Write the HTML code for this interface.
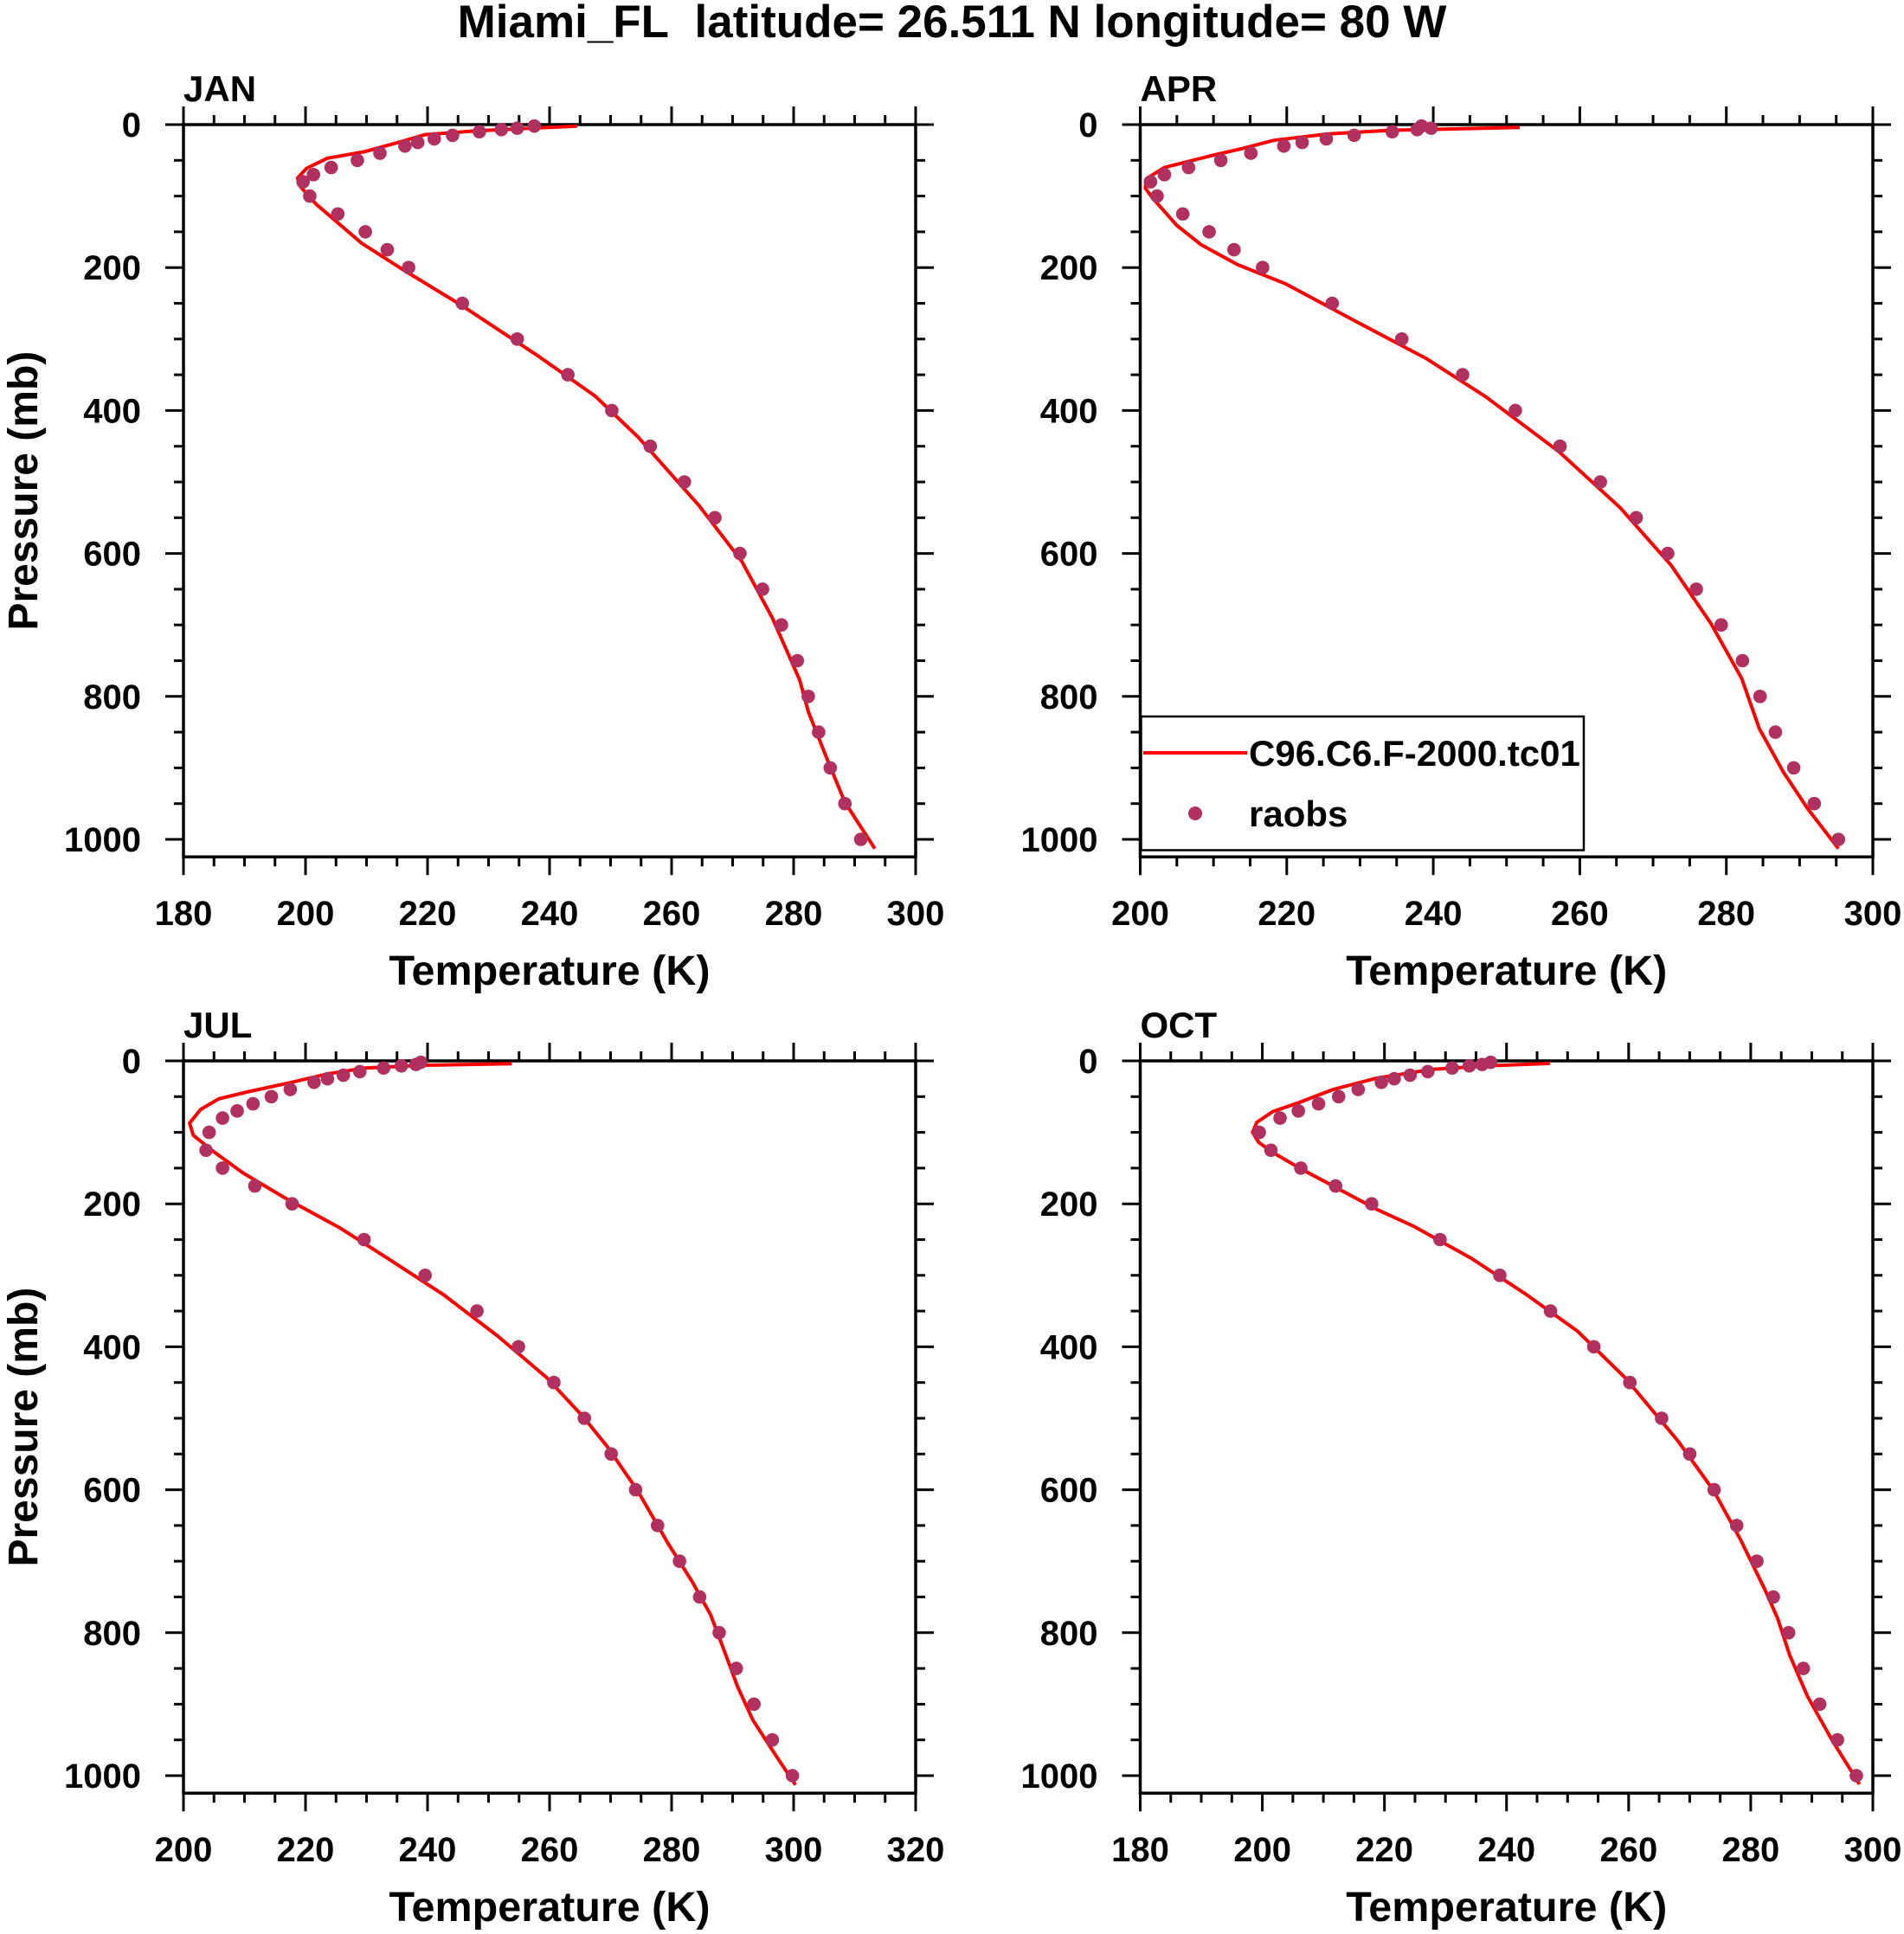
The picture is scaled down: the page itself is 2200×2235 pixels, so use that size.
<!DOCTYPE html>
<html><head><meta charset="utf-8"><style>
html,body{margin:0;padding:0;background:#fff;}
svg text{font-family:"Liberation Sans",Arial,sans-serif;font-weight:bold;fill:#000;}
</style></head><body>
<svg id="fig" xmlns="http://www.w3.org/2000/svg" width="2200" height="2230" viewBox="0 0 2200 2230">
<rect width="2200" height="2230" fill="#fff"/>
<text x="1100" y="43" font-size="53" text-anchor="middle">Miami_FL&#160;&#160;latitude= 26.511 N longitude= 80 W</text>
</svg>
<script>
// Shared observation pressure levels (mb)
const obsLevels = [2,5,7,10,15,20,25,30,40,50,60,70,80,100,125,150,175,200,250,300,350,400,450,500,550,600,650,700,750,800,850,900,950,1000];
const janObsT = [237.5,234.7,232.1,228.5,224.1,221.1,218.4,216.3,212.2,208.5,204.2,201.3,199.6,200.7,205.3,209.8,213.4,216.9,225.7,234.7,243.0,250.2,256.5,262.1,267.1,271.2,274.9,278.0,280.6,282.4,284.1,286.0,288.4,291.0];
const aprObsT = [238.4,239.7,237.8,234.4,229.2,225.4,222.1,219.6,215.1,211.0,206.6,203.3,201.4,202.3,205.8,209.4,212.8,216.7,226.2,235.7,244.0,251.2,257.3,262.8,267.7,272.0,275.9,279.3,282.2,284.6,286.7,289.2,292.0,295.3];
const julObsT = [238.9,238.1,235.7,232.8,228.9,226.2,223.6,221.4,217.5,214.4,211.4,208.8,206.4,204.2,203.7,206.4,211.7,217.8,229.6,239.6,248.1,254.9,260.7,265.7,270.1,274.1,277.7,281.3,284.6,287.8,290.6,293.5,296.5,299.8];
const octObsT = [237.4,236.0,233.9,231.1,227.1,224.2,221.6,219.5,215.7,212.5,209.2,205.9,202.9,199.5,201.4,206.3,212.0,217.9,229.1,238.9,247.2,254.3,260.2,265.4,270.0,274.0,277.7,281.0,283.7,286.2,288.6,291.3,294.2,297.3];
// Model profiles
const janModP = [2,9,14,24,38,47,61,75,87,111,166,201,253,323,380,437,533,611,690,777,821,886,948,1013];
const janModT = [244.5,227.6,219.6,215.6,209.6,203.6,200.2,198.7,199.2,201.7,209.2,215.6,225.6,238.0,247.5,254.5,264.5,271.5,276.5,281.0,282.4,285.4,288.4,293.3];
const aprModP = [4,8,13,22,33,43,60,76,89,103,141,168,196,223,273,327,381,458,536,617,698,775,845,906,957,1013];
const aprModT = [251.8,234.0,225.7,218.2,214.1,209.9,203.3,200.8,200.7,201.7,205.0,208.3,213.3,219.9,229.0,239.0,247.2,257.2,265.5,272.5,277.9,282.1,284.5,287.8,291.1,295.3];
const julModP = [4,6,10,18,30,43,53,68,87,104,126,157,192,234,277,327,385,443,497,539,601,675,729,775,829,875,922,968,1013];
const julModT = [253.8,239.6,229.7,223.7,217.7,210.7,205.8,202.8,201.0,201.6,204.8,209.8,216.7,225.7,233.6,242.6,251.5,259.5,265.4,269.4,274.4,279.4,283.4,286.4,288.8,290.8,293.3,296.8,300.3];
const octModP = [3.5,7,12,24,40,59,71,86,100,114,129,151,208,231,276,326,378,444,531,601,671,741,780,832,889,950,1012];
const octModT = [247.1,236.7,227.7,218.8,211.6,205.8,201.7,199.1,198.4,199.4,201.9,206.3,218.8,224.7,234.2,243.1,251.6,259.5,268.0,273.9,278.4,282.4,284.4,286.4,289.3,293.3,297.8];
const panelNames = ["JAN","APR","JUL","OCT"];
const xMins = [180,200,200,180];
const xMaxs = [300,300,320,300];
const yTicks = [0,200,400,600,800,1000];

const NS="http://www.w3.org/2000/svg";
const svg=document.getElementById('fig');
function mk(tag,attrs,parent){const e=document.createElementNS(NS,tag);for(const k in attrs)e.setAttribute(k,attrs[k]);(parent||svg).appendChild(e);return e;}

const panels=[
 {x0:212,x1:1058,y0:144,obs:janObsT,mp:janModP,mt:janModT,key:'jan'},
 {x0:1317.5,x1:2164,y0:144,obs:aprObsT,mp:aprModP,mt:aprModT,key:'apr'},
 {x0:212,x1:1058,y0:1226,obs:julObsT,mp:julModP,mt:julModT,key:'jul'},
 {x0:1317.5,x1:2164,y0:1226,obs:octObsT,mp:octModP,mt:octModT,key:'oct'}
];
const PPX=0.826, PMAX=1024.5;
panels.forEach((P,i)=>{
  const xmin=xMins[i], xmax=xMaxs[i];
  const sx=t=>P.x0+(t-xmin)/(xmax-xmin)*(P.x1-P.x0);
  const sy=p=>P.y0+p*PPX;
  const yb=sy(PMAX);
  const g=mk('g',{});
  
  
  const lab=mk('text',{x:P.x0,y:P.y0-27,'font-size':42},g);
  lab.textContent=panelNames[i];
  
  
  const tk=mk('g',{stroke:'#000','stroke-width':3},g);
  
  
  for(let t=xmin;t<=xmax+0.01;t+=5){
    const maj=((t-xmin)%20===0); const L=maj?21:11; const x=sx(t);
    mk('line',{x1:x,x2:x,y1:P.y0,y2:P.y0-L},tk);
    mk('line',{x1:x,x2:x,y1:yb,y2:yb+L},tk);
  }
  for(let p=0;p<=1000;p+=50){
    const maj=(p%200===0); const L=maj?21:11; const y=sy(p);
    mk('line',{x1:P.x0,x2:P.x0-L,y1:y,y2:y},tk);
    mk('line',{x1:P.x1,x2:P.x1+L,y1:y,y2:y},tk);
  }
  const fr=mk('rect',{x:P.x0,y:P.y0,width:P.x1-P.x0,height:yb-P.y0,fill:'none',stroke:'#000','stroke-width':3.5},g);
  
  
  for(let t=xmin;t<=xmax;t+=20){
    const e=mk('text',{x:sx(t),y:yb+79,'font-size':40,'text-anchor':'middle'},g);
    e.textContent=t;
    
    
  }
  yTicks.forEach(p=>{
    const e=mk('text',{x:P.x0-49,y:sy(p)+14,'font-size':40,'text-anchor':'end'},g);
    e.textContent=p;
    
    
  });
  const xt=mk('text',{x:(P.x0+P.x1)/2,y:yb+148,'font-size':48.5,'text-anchor':'middle'},g);
  xt.textContent='Temperature (K)';
  
  
  if(i%2===0){
    const cy=(P.y0+yb)/2;
    const yt=mk('text',{x:43,y:cy,'font-size':48,'text-anchor':'middle',transform:`rotate(-90 43 ${cy})`},g);
    yt.textContent='Pressure (mb)';
    
    
  }
  const pts=P.mt.map((t,k)=>sx(t).toFixed(1)+','+sy(P.mp[k]).toFixed(1)).join(' ');
  const ln=mk('polyline',{points:pts,fill:'none',stroke:'#ff0000','stroke-width':4,'stroke-linejoin':'round'},g);
  
  
  P.obs.forEach((t,k)=>{
    const c=mk('circle',{cx:sx(t),cy:sy(obsLevels[k]),r:7.8,fill:'#b03060'},g);
    
    
  });
});
const lg=mk('g',{});


mk('rect',{x:1318.5,y:828,width:511.5,height:154.5,fill:'#fff',stroke:'#000','stroke-width':2.5},lg);
const l1=mk('line',{x1:1321,x2:1441,y1:870,y2:870,stroke:'#ff0000','stroke-width':4},lg);


const t1=mk('text',{x:1443,y:885,'font-size':42},lg);
t1.textContent='C96.C6.F-2000.tc01';


const d1=mk('circle',{cx:1381,cy:940,r:8,fill:'#b03060'},lg);


const t2=mk('text',{x:1443,y:955,'font-size':42},lg);
t2.textContent='raobs';


</script>
</body></html>
